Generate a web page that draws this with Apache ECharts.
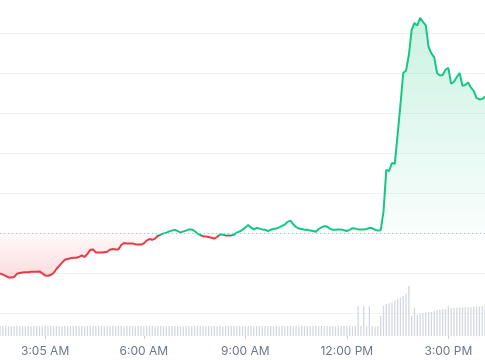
<!DOCTYPE html>
<html>
<head>
<meta charset="utf-8">
<script src="https://cdn.jsdelivr.net/npm/echarts@6/dist/echarts.min.js"></script>
<style>
html,body{margin:0;padding:0;background:#fff;}
#chart{width:485px;height:360px;}
</style>
</head>
<body>
<div id="chart"></div>
<script>
// ---- data ----
const START_MINUTE = 105;          // first sample: 1:45 AM, 5-minute steps
const STEP_MINUTES = 5;
const BASELINE = 100;              // reference (previous close) price
const tickLabels = ['3:05 AM', '6:00 AM', '9:00 AM', '12:00 PM', '3:00 PM'];

const price = [
  89.9,89.6,89.3,88.9,88.9,89.0,89.8,90.0,90.1,90.2,
  90.2,90.3,90.3,90.3,90.4,89.9,89.4,89.3,89.5,90.0,
  91.0,91.8,92.6,93.3,93.5,93.7,93.8,93.8,94.0,94.4,
  94.0,94.8,95.8,95.9,95.1,95.1,95.1,95.2,95.3,95.8,
  96.0,95.9,95.9,97.0,97.5,97.4,97.4,97.4,97.2,97.1,
  97.1,97.4,98.1,98.5,98.3,98.6,99.3,99.6,99.9,100.1,
  100.4,100.6,100.8,100.5,100.1,100.4,100.6,100.9,100.9,100.5,
  99.9,99.5,99.2,99.1,99.0,98.8,98.6,99.0,99.6,99.6,
  99.4,99.4,99.4,99.6,100.1,100.4,100.8,101.4,102.0,101.4,
  100.9,101.3,101.1,100.9,100.8,100.5,100.8,101.0,101.1,101.4,
  101.8,102.1,102.8,103.1,102.2,101.5,101.1,101.0,100.8,100.8,
  100.6,100.5,100.3,101.0,101.4,101.7,101.6,101.1,100.8,100.8,
  100.9,100.9,100.7,100.5,100.8,101.2,101.1,100.9,100.9,100.9,
  101.0,101.3,101.2,100.8,100.6,100.7,105.3,115.8,115.5,117.5,
  117.3,124.5,132.0,140.0,140.6,144.5,150.8,152.5,151.9,153.8,
  152.8,151.9,146.5,144.9,143.9,140.0,139.4,139.5,140.8,141.3,
  137.3,137.8,139.0,140.0,136.8,137.0,137.6,136.4,135.5,133.8,
  133.4,133.5,134.1
];

const volume = [
  100,98,102,97,101,99,103,98,100,96,
  101,99,102,98,100,97,103,99,101,98,
  100,102,97,101,99,100,98,102,99,101,
  97,100,103,98,101,99,100,97,102,99,
  101,98,100,103,97,100,99,101,98,102,
  100,97,101,99,103,98,100,101,97,99,
  102,100,98,101,99,97,103,100,98,101,
  99,102,100,97,101,98,100,99,103,97,
  101,100,98,102,99,101,97,100,99,103,
  98,101,100,97,102,99,101,98,100,97,
  103,99,101,100,98,102,97,100,99,101,
  98,100,103,97,101,99,100,98,102,96,
  101,99,100,98,102,97,101,
  300,100,300,98,300,100,97,101,205,305,
  322,330,338,358,375,388,405,430,505,205,
  282,215,225,232,238,242,245,255,262,265,
  270,272,305,282,284,285,287,288,290,292,
  293,295,297,298,300,305
];

// ---- helpers ----
function fmtTime(m) {
  const h24 = Math.floor(m / 60) % 24, mm = m % 60;
  const ap = h24 < 12 ? 'AM' : 'PM';
  let h = h24 % 12; if (h === 0) h = 12;
  return h + ':' + (mm < 10 ? '0' : '') + mm + ' ' + ap;
}
const categories = price.map((_, i) => fmtTime(START_MINUTE + i * STEP_MINUTES));
const showTick = (idx, val) => tickLabels.indexOf(val) >= 0;

const GREEN = '#16c784', RED = '#ea3943';
const maxV = Math.max(...price), minV = Math.min(...price);
const off = (maxV - BASELINE) / (maxV - minV);

const chart = echarts.init(document.getElementById('chart'), null, {renderer: 'canvas'});
chart.setOption({
  animation: false,
  backgroundColor: '#ffffff',
  grid: [
    {left: 0, right: 0, top: 33, height: 280},
    {left: 0, right: 0, top: 286, height: 50}
  ],
  xAxis: [
    {gridIndex: 0, type: 'category', data: categories, boundaryGap: false, show: false},
    {gridIndex: 1, type: 'category', data: categories, boundaryGap: false,
      axisLine: {show: false},
      axisTick: {show: true, interval: showTick, length: 3, lineStyle: {color: '#c8cdd8'}},
      axisLabel: {interval: showTick, margin: 9, color: '#6b778c', fontSize: 12, fontFamily: 'Inter, "Noto Sans", sans-serif'},
      splitLine: {show: false}}
  ],
  yAxis: [
    {gridIndex: 0, type: 'value', min: 80, max: 150, interval: 10,
      axisLine: {show: false}, axisTick: {show: false}, axisLabel: {show: false},
      splitLine: {show: true, lineStyle: {color: '#f1f2f4', width: 1}}},
    {gridIndex: 1, type: 'value', min: 0, max: 'dataMax', show: false}
  ],
  series: [
    {
      type: 'line', xAxisIndex: 0, yAxisIndex: 0, data: price,
      showSymbol: false, clip: false, z: 3,
      lineStyle: {
        width: 2,
        color: new echarts.graphic.LinearGradient(0, 0, 0, 1, [
          {offset: 0, color: GREEN},
          {offset: off, color: GREEN},
          {offset: off, color: RED},
          {offset: 1, color: RED}
        ])
      },
      areaStyle: {
        origin: BASELINE,
        color: new echarts.graphic.LinearGradient(0, 0, 0, 1, [
          {offset: 0, color: 'rgba(22,199,132,0.32)'},
          {offset: off, color: 'rgba(22,199,132,0.03)'},
          {offset: off, color: 'rgba(234,57,67,0.04)'},
          {offset: 1, color: 'rgba(234,57,67,0.26)'}
        ])
      },
      markLine: {
        silent: true, symbol: ['none', 'none'], label: {show: false},
        lineStyle: {type: [1, 3], color: '#b3bac8', width: 1},
        data: [{yAxis: BASELINE}]
      }
    },
    {
      type: 'bar', xAxisIndex: 1, yAxisIndex: 1, data: volume,
      barWidth: 1.3, itemStyle: {color: '#d3d7e0'}, z: 1
    }
  ]
});
</script>
</body>
</html>
